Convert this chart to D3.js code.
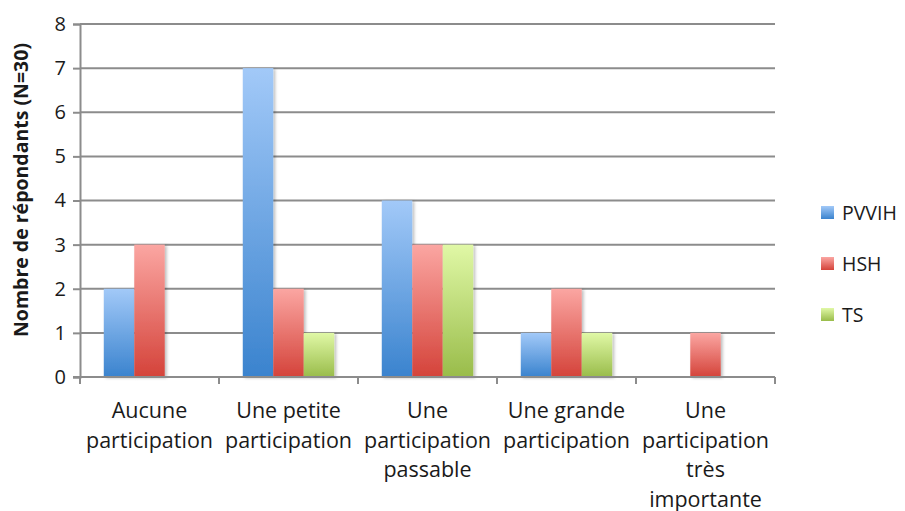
<!DOCTYPE html>
<html>
<head>
<meta charset="utf-8">
<script src="https://cdn.jsdelivr.net/npm/d3@7"></script>
<style>
  html, body { margin: 0; padding: 0; background: #fff; }
  svg { display: block; }
  text { font-family: "Open Sans", Lato, sans-serif; fill: #1a1a1a; }
</style>
</head>
<body>
<div id="chart"></div>
<script>
// Categories (each label split into its display lines)
const categories = [
  ["Aucune", "participation"],
  ["Une petite", "participation"],
  ["Une", "participation", "passable"],
  ["Une grande", "participation"],
  ["Une", "participation", "très", "importante"]
];
const seriesNames = ["PVVIH", "HSH", "TS"];
const pvvih = [2, 7, 4, 1, 0];
const hsh = [3, 2, 3, 2, 1];
const ts = [0, 1, 3, 1, 0];
const yTicks = [0, 1, 2, 3, 4, 5, 6, 7, 8];
const yTitle = "Nombre de répondants (N=30)";

const seriesValues = [pvvih, hsh, ts];
const colors = [
  { top: "#A2C9F8", bottom: "#3A83CE" },
  { top: "#FBA6A2", bottom: "#D4433A" },
  { top: "#E0F8A6", bottom: "#99BC4A" }
];

const W = 905, H = 511;
const margin = { left: 80, right: 130, top: 24, bottom: 134 };
const FONT = "'Open Sans', Lato, sans-serif";

const svg = d3.select("#chart").append("svg")
  .attr("width", W).attr("height", H);

const defs = svg.append("defs");
colors.forEach((c, i) => {
  const g = defs.append("linearGradient")
    .attr("id", "grad" + i)
    .attr("x1", 0).attr("y1", 0).attr("x2", 0).attr("y2", 1);
  g.append("stop").attr("offset", "0%").attr("stop-color", c.top);
  g.append("stop").attr("offset", "100%").attr("stop-color", c.bottom);
});
const shadow = defs.append("filter").attr("id", "shadow")
  .attr("x", "-20%").attr("y", "-10%").attr("width", "150%").attr("height", "130%");
shadow.append("feDropShadow")
  .attr("dx", 2).attr("dy", 1).attr("stdDeviation", 1.5)
  .attr("flood-color", "#000").attr("flood-opacity", 0.25);

const x0 = d3.scaleBand()
  .domain(d3.range(categories.length))
  .range([margin.left, W - margin.right])
  .paddingInner(0).paddingOuter(0);

const x1 = d3.scaleBand()
  .domain(d3.range(seriesNames.length))
  .range([0, x0.bandwidth()])
  .paddingOuter(0.78).paddingInner(0);

const y = d3.scaleLinear()
  .domain([0, 8])
  .range([H - margin.bottom, margin.top]);

const gridColor = "#8c8c8c";

// Horizontal gridlines
svg.append("g").selectAll("line")
  .data(yTicks.filter(t => t > 0))
  .join("line")
  .attr("x1", margin.left).attr("x2", W - margin.right)
  .attr("y1", d => y(d)).attr("y2", d => y(d))
  .attr("stroke", gridColor).attr("stroke-width", 2);

// Y axis
const yAxis = svg.append("g")
  .attr("transform", `translate(${margin.left},0)`)
  .call(d3.axisLeft(y).tickValues(yTicks).tickSize(7).tickPadding(7).tickFormat(d3.format("d")));
yAxis.select(".domain").attr("stroke", gridColor).attr("stroke-width", 2);
yAxis.selectAll(".tick line").attr("stroke", gridColor).attr("stroke-width", 2);
yAxis.selectAll(".tick text")
  .style("font-family", FONT)
  .style("font-size", "20px").attr("fill", "#1a1a1a");

// Bars
const groups = svg.append("g").selectAll("g")
  .data(categories.map((c, i) => i))
  .join("g")
  .attr("transform", i => `translate(${x0(i)},0)`);

groups.selectAll("rect")
  .data(i => seriesValues.map((vals, s) => ({ s, v: vals[i] })).filter(d => d.v > 0))
  .join("rect")
  .attr("x", d => x1(d.s))
  .attr("width", x1.bandwidth())
  .attr("y", d => y(d.v))
  .attr("height", d => y(0) - y(d.v))
  .attr("fill", d => `url(#grad${d.s})`)
  .attr("filter", "url(#shadow)");

// X axis with category separators
const xAxisG = svg.append("g")
  .attr("transform", `translate(0,${y(0)})`);
xAxisG.append("line")
  .attr("x1", margin.left - 7).attr("x2", W - margin.right)
  .attr("stroke", gridColor).attr("stroke-width", 2);
const sepTicks = d3.range(categories.length + 1).map(i =>
  i < categories.length ? x0(i) : x0(i - 1) + x0.bandwidth());
xAxisG.selectAll("line.sep")
  .data(sepTicks)
  .join("line").attr("class", "sep")
  .attr("x1", d => d).attr("x2", d => d)
  .attr("y1", 0).attr("y2", 7)
  .attr("stroke", gridColor).attr("stroke-width", 2);

// Category labels
const labels = svg.append("g").selectAll("text")
  .data(categories)
  .join("text")
  .attr("text-anchor", "middle")
  .style("font-size", "21.5px")
  .attr("x", (d, i) => x0(i) + x0.bandwidth() / 2)
  .attr("y", y(0) + 41);
labels.selectAll("tspan")
  .data(d => d)
  .join("tspan")
  .attr("x", function () { return d3.select(this.parentNode).attr("x"); })
  .attr("dy", (d, j) => j === 0 ? 0 : 29.5)
  .text(d => d);

// Y title
svg.append("text")
  .attr("transform", `translate(28,190) rotate(-90)`)
  .attr("text-anchor", "middle")
  .style("font-size", "19.5px")
  .style("font-weight", "bold")
  .text(yTitle);

// Legend
const legend = svg.append("g").selectAll("g")
  .data(seriesNames)
  .join("g")
  .attr("transform", (d, i) => `translate(821,${212 + i * 51})`);
legend.append("rect")
  .attr("x", 0).attr("y", -6).attr("width", 13).attr("height", 13)
  .attr("fill", (d, i) => `url(#grad${i})`);
legend.append("text")
  .attr("x", 21).attr("y", 7.5)
  .style("font-size", "19.5px")
  .text(d => d);
</script>
</body>
</html>
